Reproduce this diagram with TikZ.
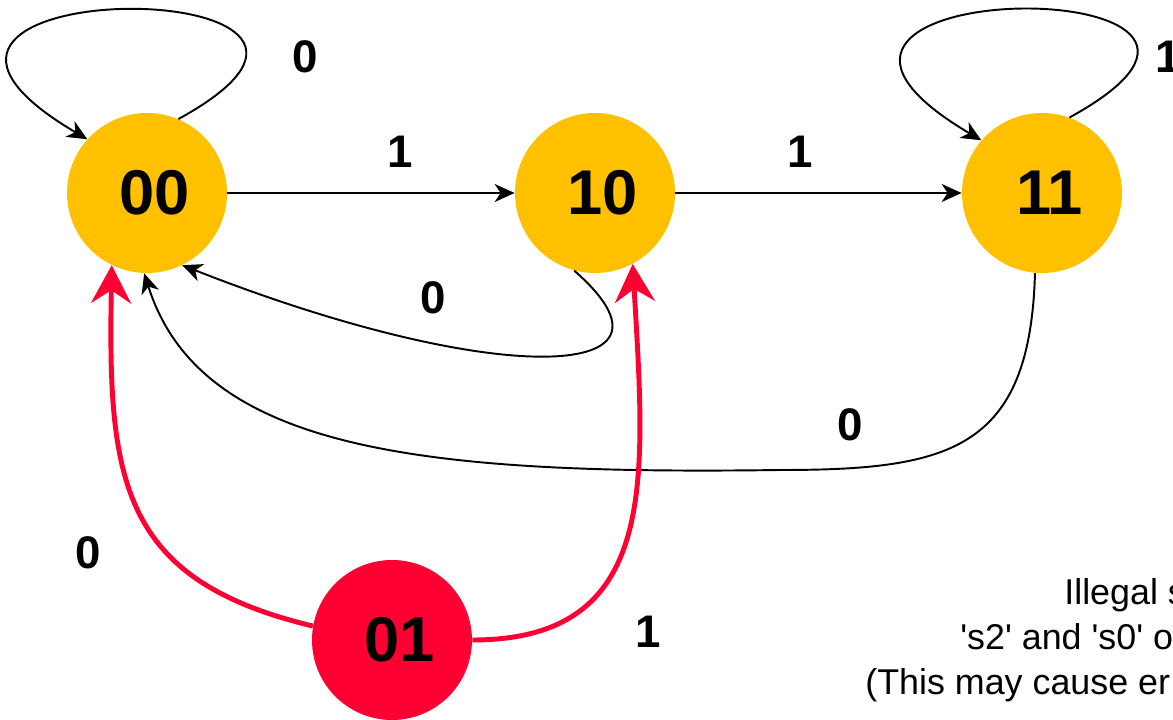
\documentclass[tikz,border=0pt]{standalone}
\usepackage{fontspec}
\setmainfont{Liberation Sans}
\usetikzlibrary{positioning,arrows.meta}
\definecolor{stateyel}{HTML}{FFC000}
\definecolor{badred}{HTML}{FF0033}
\tikzset{
  state/.style   = {circle, fill=stateyel, inner sep=0pt, minimum size=3.2cm,
                    font=\fontsize{36}{40}\selectfont\bfseries,
                    execute at begin node={\hspace*{0.3cm}}},
  bstate/.style  = {state, fill=badred},
  edge/.style    = {line width=1.1pt, -{Stealth[length=4mm, width=3.6mm, inset=1.2mm]}},
  redge/.style   = {line width=2.8pt, draw=badred,
                    -{Stealth[length=7.6mm, width=8mm, inset=2.6mm]}},
  lbl/.style     = {font=\fontsize{26}{30}\selectfont\bfseries, inner sep=0pt},
  note/.style    = {font=\fontsize{20.4}{24}\selectfont, inner sep=0pt, anchor=base west},
}
\newcommand{\sq}{\textquotesingle}

\begin{document}
\begin{tikzpicture}
  \useasboundingbox (0,0) rectangle (23.46,14.4);
  \clip (0,0) rectangle (23.46,14.4);
  \node[state] (n00) at (2.94,10.54) {00};
  \node[state] (n10) at (11.9,10.54) {10};
  \node[state] (n11) at (20.84,10.54) {11};
  \node[bstate] (n01) at (7.84,1.6) {01};
  \coordinate (low) at (15.6,5.0);
  \draw[edge] (n00.67)..controls+(5.44,2.98)and+(-5.75,3.39)..(n00.138);
  \draw[edge] (n11.70)..controls+(5.44,2.98)and+(-5.75,3.39)..(n11.139);
  \draw[edge] (n00.east)--(n10.west);
  \draw[edge] (n10.east)--(n11.west);
  \draw[edge] (n10.255)..controls+(2.52,-2.2)and+(6.36,-2.5)..(n00.296);
  \draw[edge] (n11.265)..controls+(-0.1,-3.54)and+(3.4,0)..(low)
              ..controls+(-7.2,-0.1)and+(1.12,-3.54)..(n00.268);
  \draw[redge] (n01.170)..controls+(-3.86,0.92)and+(-0.08,-4.3)..(n00.244);
  \draw[redge] (n01.east)..controls+(3.76,0)and+(0.25,-4.33)..(n10.298);
  \node[lbl] (l0a) at (6.1,13.26) {0};
  \node[lbl] (l1a) at (23.36,13.26) {1};
  \node[lbl] (l1b) at (8.0,11.36) {1};
  \node[lbl] (l1c) at (16.0,11.36) {1};
  \node[lbl] (l0b) at (8.66,8.44) {0};
  \node[lbl] (l0c) at (17.0,5.9) {0};
  \node[lbl] (l0d) at (1.76,3.34) {0};
  \node[lbl] (l1d) at (12.96,1.76) {1};
  \node[note] (t1) at (21.28,2.3) {Illegal s};
  \node[note] (t2) at (19.2,1.4) {\sq s2\sq{} and \sq s0\sq{} o};
  \node[note] (t3) at (17.3,0.5) {(This may cause er};
\end{tikzpicture}
\end{document}
